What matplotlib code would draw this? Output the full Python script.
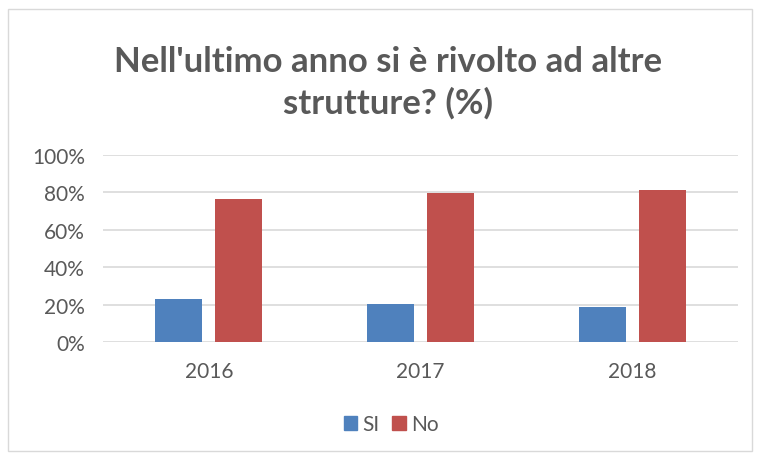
import matplotlib.pyplot as plt
from matplotlib.patches import Rectangle
import numpy as np

years = ["2016", "2017", "2018"]
si_vals = [23.1, 20.1, 18.6]
no_vals = [76.5, 79.8, 81.2]
yticks = [0, 20, 40, 60, 80, 100]

plt.rcParams['font.family'] = ['Lato', 'DejaVu Sans']
txt = '#595959'

W, H = 758, 456
fig = plt.figure(figsize=(W / 100, H / 100), dpi=100)
fig.patch.set_facecolor('white')

# chart border
fig.patches.append(Rectangle((8 / W, 1 - 452 / H), 744 / W, 442 / H,
                             transform=fig.transFigure, fill=False,
                             edgecolor='#d9d9d9', linewidth=1))

ax = fig.add_axes([103 / W, 1 - 343 / H, 635 / W, 187 / H])

x = np.arange(len(years))
w = 0.222
off = 0.142
ax.bar(x - off, si_vals, w, color='#4f81bd', zorder=3)
ax.bar(x + off, no_vals, w, color='#c0504d', zorder=3)

ax.set_xlim(-0.5, 2.5)
ax.set_ylim(0, 100)
ax.set_yticks(yticks)
ax.set_yticklabels([f"{v}%" for v in yticks], fontsize=15, color=txt)
ax.set_xticks(x)
ax.set_xticklabels(years, fontsize=15, color=txt)
ax.tick_params(length=0)
ax.tick_params(axis='y', pad=13)
ax.tick_params(axis='x', pad=14)
ax.grid(axis='y', color='#d9d9d9', linewidth=1.2, zorder=0)
for s in ax.spines.values():
    s.set_visible(False)

fig.text(388 / W, 1 - 62 / H, "Nell'ultimo anno si è rivolto ad altre",
         ha='center', va='center', fontsize=25, fontweight='bold', color=txt)
fig.text(388 / W, 1 - 103 / H, "strutture? (%)",
         ha='center', va='center', fontsize=25, fontweight='bold', color=txt)

handles = [Rectangle((0, 0), 1, 1, color='#4f81bd'),
           Rectangle((0, 0), 1, 1, color='#c0504d')]
fig.legend(handles, ["SI", "No"], loc='center', bbox_to_anchor=(391 / W, 1 - 425 / H),
           ncol=2, frameon=False, fontsize=15, labelcolor=txt,
           handlelength=0.65, handleheight=0.65, handletextpad=0.25, columnspacing=0.6)

fig.savefig('out.png', dpi=100)
